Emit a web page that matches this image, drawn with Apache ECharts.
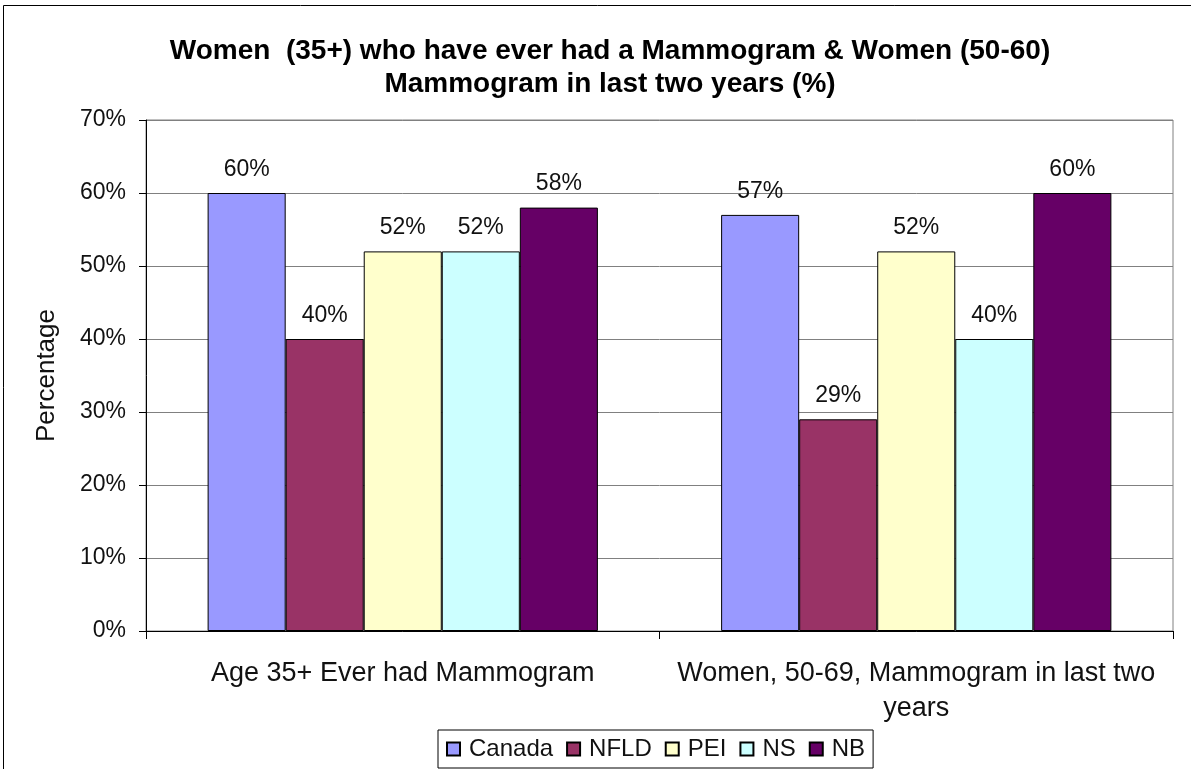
<!DOCTYPE html>
<html>
<head>
<meta charset="utf-8">
<script src="https://cdn.jsdelivr.net/npm/echarts@6/dist/echarts.min.js"></script>
<style>
  html, body { margin: 0; padding: 0; background: #fff; }
  #chart { width: 1191px; height: 769px; }
</style>
</head>
<body>
<div id="chart"></div>
<script>
const categories = ["Age 35+ Ever had Mammogram", "Women, 50-69, Mammogram in last two\nyears"];
const seriesNames = ["Canada", "NFLD", "PEI", "NS", "NB"];
const canada = [60, 57];
const nfld = [40, 29];
const pei = [52, 52];
const ns = [52, 40];
const nb = [58, 60];
const yTicks = [0, 10, 20, 30, 40, 50, 60, 70];

const values = [canada, nfld, pei, ns, nb];
const colors = ["#9999FF", "#993366", "#FFFFCC", "#CCFFFF", "#660066"];
const font = "Liberation Sans, Arial, sans-serif";

const chart = echarts.init(document.getElementById("chart"));

const option = {
  animation: false,
  textStyle: { fontFamily: font },
  graphic: [
    {
      type: "rect",
      shape: { x: 3.5, y: 5.5, width: 1200, height: 800 },
      style: { fill: "none", stroke: "#000", lineWidth: 1 },
      silent: true,
    },
  ],
  title: {
    text: "Women  (35+) who have ever had a Mammogram & Women (50-60)\nMammogram in last two years (%)",
    left: 605,
    textAlign: "center",
    top: 30,
    textStyle: {
      fontFamily: font,
      fontSize: 28,
      fontWeight: "bold",
      color: "#000",
      lineHeight: 33,
    },
  },
  legend: {
    bottom: 1,
    left: 438,
    itemWidth: 13,
    itemHeight: 13,
    itemGap: 13,
    padding: [7, 8, 7, 8],
    borderColor: "#000",
    borderWidth: 1,
    icon: "rect",
    textStyle: { fontSize: 24, color: "#111", fontFamily: font, padding: [0, 0, 0, 4] },
    data: seriesNames,
  },
  grid: {
    left: 146,
    right: 18,
    top: 120,
    bottom: 138,
    show: true,
    borderColor: "#808080",
    borderWidth: 1,
  },
  xAxis: {
    type: "category",
    data: categories,
    axisLine: { lineStyle: { color: "#000" } },
    axisTick: { show: true, length: 8, lineStyle: { color: "#000" } },
    axisLabel: {
      interval: 0,
      color: "#111",
      fontSize: 27,
      fontFamily: font,
      margin: 25,
      lineHeight: 35,
    },
  },
  yAxis: {
    type: "value",
    min: 0,
    max: 70,
    interval: 10,
    name: "Percentage",
    nameLocation: "middle",
    nameGap: 86,
    nameTextStyle: { fontSize: 26, color: "#111", fontFamily: font },
    axisLine: { show: true, lineStyle: { color: "#000" } },
    axisTick: { show: true, length: 7, lineStyle: { color: "#000" } },
    axisLabel: {
      color: "#111",
      fontSize: 23,
      fontFamily: font,
      margin: 20,
      formatter: (v) => (yTicks.includes(v) ? v + "%" : ""),
    },
    splitLine: { show: true, lineStyle: { color: "#808080" } },
  },
  series: seriesNames.map((name, i) => ({
    name: name,
    type: "bar",
    data: values[i],
    barGap: "0%",
    barCategoryGap: "24%",
    itemStyle: { color: colors[i], borderColor: "#000", borderWidth: 1 },
    label: {
      show: true,
      position: "top",
      distance: 12,
      fontSize: 23,
      color: "#111",
      fontFamily: font,
      formatter: (p) => p.value + "%",
    },
  })),
};

chart.setOption(option);
window.addEventListener("resize", function () {
  chart.resize();
});
</script>
</body>
</html>
